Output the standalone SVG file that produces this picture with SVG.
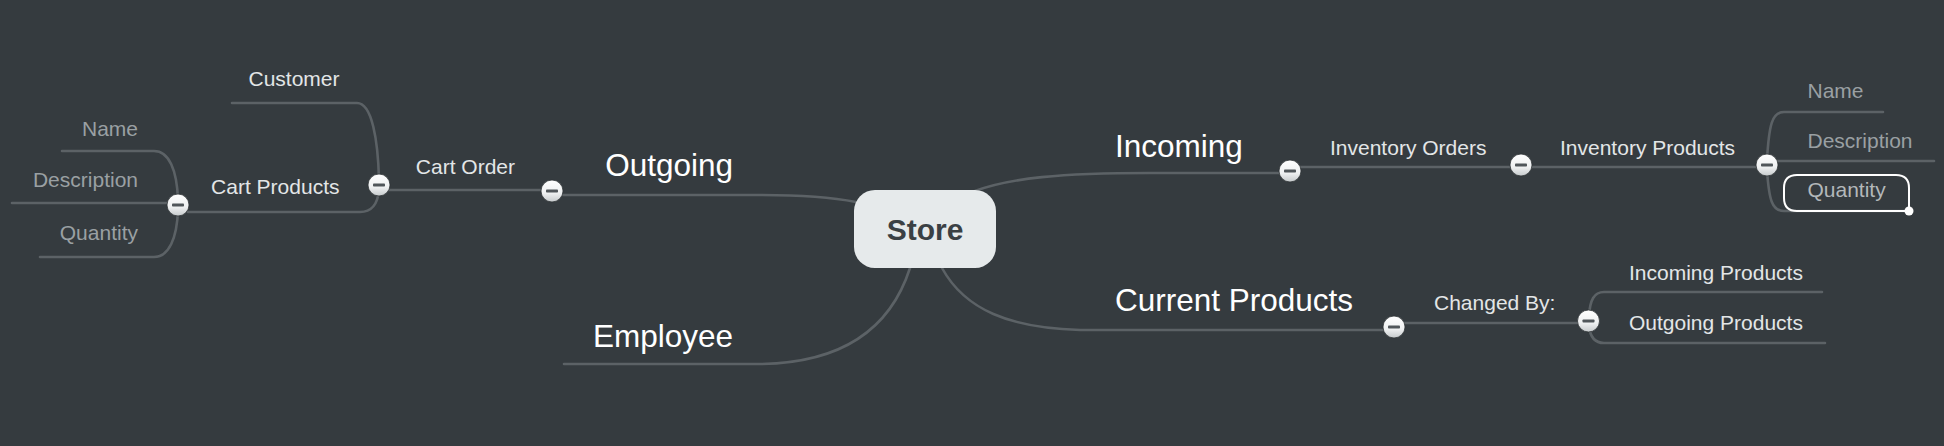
<svg xmlns="http://www.w3.org/2000/svg" width="1944" height="446" viewBox="0 0 1944 446">
<defs>
<style>
.ln{fill:none;stroke:#5c6266;stroke-width:2.6;stroke-linecap:round}
.t1{font-family:"Liberation Sans",Arial,sans-serif;font-size:31.5px;fill:#ffffff}
.t2{font-family:"Liberation Sans",Arial,sans-serif;font-size:21px;fill:#e3e6e7}
.t3{font-family:"Liberation Sans",Arial,sans-serif;font-size:21px;fill:#9aa0a3}
.end{text-anchor:end}
</style>
<linearGradient id="bg" x1="0" y1="0" x2="0" y2="1">
<stop offset="0" stop-color="#ffffff"/>
<stop offset="0.6" stop-color="#eef0f1"/>
<stop offset="1" stop-color="#c6cacc"/>
</linearGradient>
<g id="collapse"><circle r="11" fill="url(#bg)" stroke="#2c3134" stroke-width="0.8"/><rect x="-6" y="-1.6" width="12" height="3.2" rx="0.8" fill="#50565a"/></g>
</defs>
<rect width="1944" height="446" fill="#353b3f"/>
<g id="connectors">
<path class="ln" d="M856 202 Q820 195 760 195 L563 195"/>
<path class="ln" d="M552 190 L379 190"/>
<path class="ln" d="M379 180 C378 140 372 103 357 103 L232 103"/>
<path class="ln" d="M379 190 Q377 212 360 212 L188 212"/>
<path class="ln" d="M178 200 C177 170 169 151 154 151 L62 151"/>
<path class="ln" d="M178 203 L12 203"/>
<path class="ln" d="M178 210 C177 238 169 257 154 257 L40 257"/>
<path class="ln" d="M910 268 C890 330 840 363 760 364 L564 364"/>
<path class="ln" d="M975 191 C1010 178 1060 173 1150 173 L1290 173"/>
<path class="ln" d="M1290 167 L1767 167"/>
<path class="ln" d="M1767 160 C1769 125 1772 112 1784 112 L1883 112"/>
<path class="ln" d="M1767 161 L1934 161"/>
<path class="ln" d="M1767 170 C1769 200 1772 211 1784 211 L1909 211"/>
<path class="ln" d="M942 268 C965 310 1010 328 1080 330 L1394 330"/>
<path class="ln" d="M1394 323 L1589 323"/>
<path class="ln" d="M1589 316 C1590 300 1594 292 1604 292 L1822 292"/>
<path class="ln" d="M1589 326 C1590 336 1594 343 1604 343 L1825 343"/>
</g>
<g id="store">
<rect x="854" y="190" width="142" height="78" rx="21" fill="#e6eaeb"/>
<text x="925" y="240" text-anchor="middle" font-family="Liberation Sans,Arial,sans-serif" font-size="30" font-weight="bold" fill="#3a4044">Store</text>
</g>
<g id="outgoing"><text class="t1 end" x="733" y="176">Outgoing</text><use href="#collapse" x="552" y="191"/></g>
<g id="employee"><text class="t1 end" x="733" y="347">Employee</text></g>
<g id="cart-order"><text class="t2 end" x="515" y="174">Cart Order</text><use href="#collapse" x="379" y="185"/></g>
<g id="customer"><text class="t2 end" x="339.5" y="86">Customer</text></g>
<g id="cart-products"><text class="t2 end" x="339.5" y="194">Cart Products</text><use href="#collapse" x="178" y="205"/></g>
<g id="cp-name"><text class="t3 end" x="138" y="136">Name</text></g>
<g id="cp-description"><text class="t3 end" x="138" y="187">Description</text></g>
<g id="cp-quantity"><text class="t3 end" x="138" y="240">Quantity</text></g>
<g id="incoming"><text class="t1" x="1115" y="157">Incoming</text><use href="#collapse" x="1290" y="171"/></g>
<g id="inventory-orders"><text class="t2" x="1330" y="154.5">Inventory Orders</text><use href="#collapse" x="1521" y="165"/></g>
<g id="inventory-products"><text class="t2" x="1560" y="154.5">Inventory Products</text><use href="#collapse" x="1767" y="165"/></g>
<g id="ip-name"><text class="t3" x="1807.5" y="98">Name</text></g>
<g id="ip-description"><text class="t3" x="1807.5" y="148">Description</text></g>
<g id="ip-quantity">
<path d="M1797 175 H1896 Q1909 175 1909 188 V211 H1797 Q1784 211 1784 198 V188 Q1784 175 1797 175 Z" fill="none" stroke="#ffffff" stroke-width="2"/>
<circle cx="1909" cy="211" r="4.5" fill="#ffffff"/>
<text class="t3" x="1807.5" y="197" style="fill:#b3b8ba">Quantity</text>
</g>
<g id="current-products"><text class="t1" x="1115" y="311">Current Products</text><use href="#collapse" x="1394" y="327"/></g>
<g id="changed-by"><text class="t2" x="1434" y="310">Changed By:</text><use href="#collapse" x="1588.5" y="321"/></g>
<g id="incoming-products"><text class="t2" x="1629" y="280">Incoming Products</text></g>
<g id="outgoing-products"><text class="t2" x="1629" y="330">Outgoing Products</text></g>
</svg>
